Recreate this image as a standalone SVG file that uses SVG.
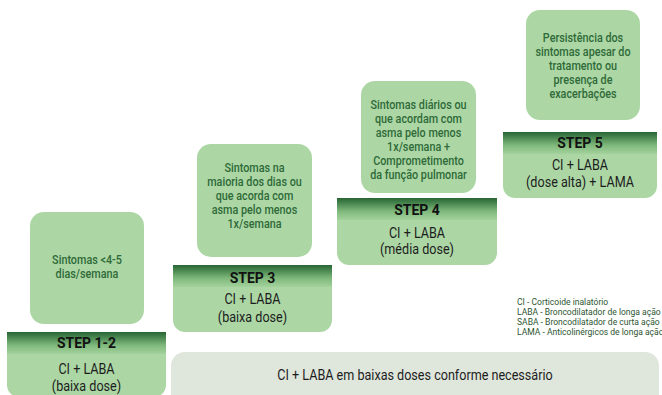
<svg xmlns="http://www.w3.org/2000/svg" width="662" height="395" viewBox="0 0 662 395">
<defs>
<linearGradient id="hdr" x1="0" y1="0" x2="0" y2="1">
<stop offset="0" stop-color="#2a6434"/>
<stop offset="0.15" stop-color="#3b7a45"/>
<stop offset="0.6" stop-color="#7fb87b"/>
<stop offset="1" stop-color="#a3d29c"/>
</linearGradient>
<style>
text{font-family:Roboto,"Liberation Sans",sans-serif;text-anchor:middle}
.sym{fill:#acd7a5}
.sym-t{font-size:12px;font-weight:500;fill:#2f6a38}
.body{fill:#acd7a5}
.step{font-size:15.5px;font-weight:700;fill:#111}
.dose{font-size:14px;fill:#1d1d1d}
.bar{fill:#dfe6dc}
.leg{font-size:9.5px;fill:#2c5530;text-anchor:start}
</style>
</defs>
<rect width="662" height="395" fill="#fff"/>

<g id="connectors"/>

<g id="symptom-1">
<rect class="sym" x="30" y="212" width="114" height="112" rx="14"/>
<g transform="translate(87 0) scale(0.9 1)">
<text class="sym-t" x="0" y="264">Sintomas &lt;4-5</text>
<text class="sym-t" x="0" y="278">dias/semana</text>
</g>
</g>

<g id="symptom-3">
<rect class="sym" x="197" y="144" width="115" height="113" rx="14"/>
<g transform="translate(254.5 0) scale(0.9 1)">
<text class="sym-t" x="0" y="172">Sintomas na</text>
<text class="sym-t" x="0" y="186">maioria dos dias ou</text>
<text class="sym-t" x="0" y="200">que acorda com</text>
<text class="sym-t" x="0" y="214">asma pelo menos</text>
<text class="sym-t" x="0" y="228">1x/semana</text>
</g>
</g>

<g id="symptom-4">
<rect class="sym" x="361" y="81" width="115" height="112" rx="14"/>
<g transform="translate(418.5 0) scale(0.9 1)">
<text class="sym-t" x="0" y="109">Sintomas diários ou</text>
<text class="sym-t" x="0" y="123">que acordam com</text>
<text class="sym-t" x="0" y="137">asma pelo menos</text>
<text class="sym-t" x="0" y="151">1x/semana +</text>
<text class="sym-t" x="0" y="165">Comprometimento</text>
<text class="sym-t" x="0" y="179">da função pulmonar</text>
</g>
</g>

<g id="symptom-5">
<rect class="sym" x="526" y="10" width="114" height="110" rx="14"/>
<g transform="translate(583 0) scale(0.9 1)">
<text class="sym-t" x="0" y="42">Persistência dos</text>
<text class="sym-t" x="0" y="56">sintomas apesar do</text>
<text class="sym-t" x="0" y="70">tratamento ou</text>
<text class="sym-t" x="0" y="84">presença de</text>
<text class="sym-t" x="0" y="98">exacerbações</text>
</g>
</g>

<g id="step-1-2">
<path class="body" d="M7 332H166V385A12 12 0 0 1 154 397H19A12 12 0 0 1 7 385Z"/>
<rect x="7" y="332" width="159" height="22" fill="url(#hdr)"/>
<g transform="translate(86.5 0) scale(0.9 1)">
<text class="step" x="0" y="348">STEP 1-2</text>
<text class="dose" x="0" y="374">CI + LABA</text>
<text class="dose" x="0" y="391">(baixa dose)</text>
</g>
</g>

<g id="step-3">
<path class="body" d="M173 265H332V320A12 12 0 0 1 320 332H185A12 12 0 0 1 173 320Z"/>
<rect x="173" y="265" width="159" height="22" fill="url(#hdr)"/>
<g transform="translate(252.5 0) scale(0.9 1)">
<text class="step" x="0" y="283">STEP 3</text>
<text class="dose" x="0" y="304">CI + LABA</text>
<text class="dose" x="0" y="322">(baixa dose)</text>
</g>
</g>

<g id="step-4">
<path class="body" d="M337 198H497V253A12 12 0 0 1 485 265H349A12 12 0 0 1 337 253Z"/>
<rect x="337" y="198" width="160" height="22" fill="url(#hdr)"/>
<g transform="translate(417 0) scale(0.9 1)">
<text class="step" x="0" y="215">STEP 4</text>
<text class="dose" x="0" y="238">CI + LABA</text>
<text class="dose" x="0" y="254">(média dose)</text>
</g>
</g>

<g id="step-5">
<path class="body" d="M503 132H657V186A12 12 0 0 1 645 198H515A12 12 0 0 1 503 186Z"/>
<rect x="503" y="132" width="154" height="22" fill="url(#hdr)"/>
<g transform="translate(580 0) scale(0.9 1)">
<text class="step" x="0" y="148">STEP 5</text>
<text class="dose" x="0" y="170">CI + LABA</text>
<text class="dose" x="0" y="187">(dose alta) + LAMA</text>
</g>
</g>

<g id="as-needed">
<rect class="bar" x="171" y="352" width="488" height="60" rx="14"/>
<g transform="translate(415 0) scale(0.9 1)">
<text class="dose" x="0" y="380">CI + LABA em baixas doses conforme necessário</text>
</g>
</g>

<g id="legend" transform="translate(517 0) scale(0.9 1)">
<text class="leg" x="0" y="305.5">CI - Corticoide inalatório</text>
<text class="leg" x="0" y="315.5">LABA - Broncodilatador de longa ação</text>
<text class="leg" x="0" y="325.5">SABA - Broncodilatador de curta ação</text>
<text class="leg" x="0" y="335.5">LAMA - Anticolinérgicos de longa ação</text>
</g>
</svg>
